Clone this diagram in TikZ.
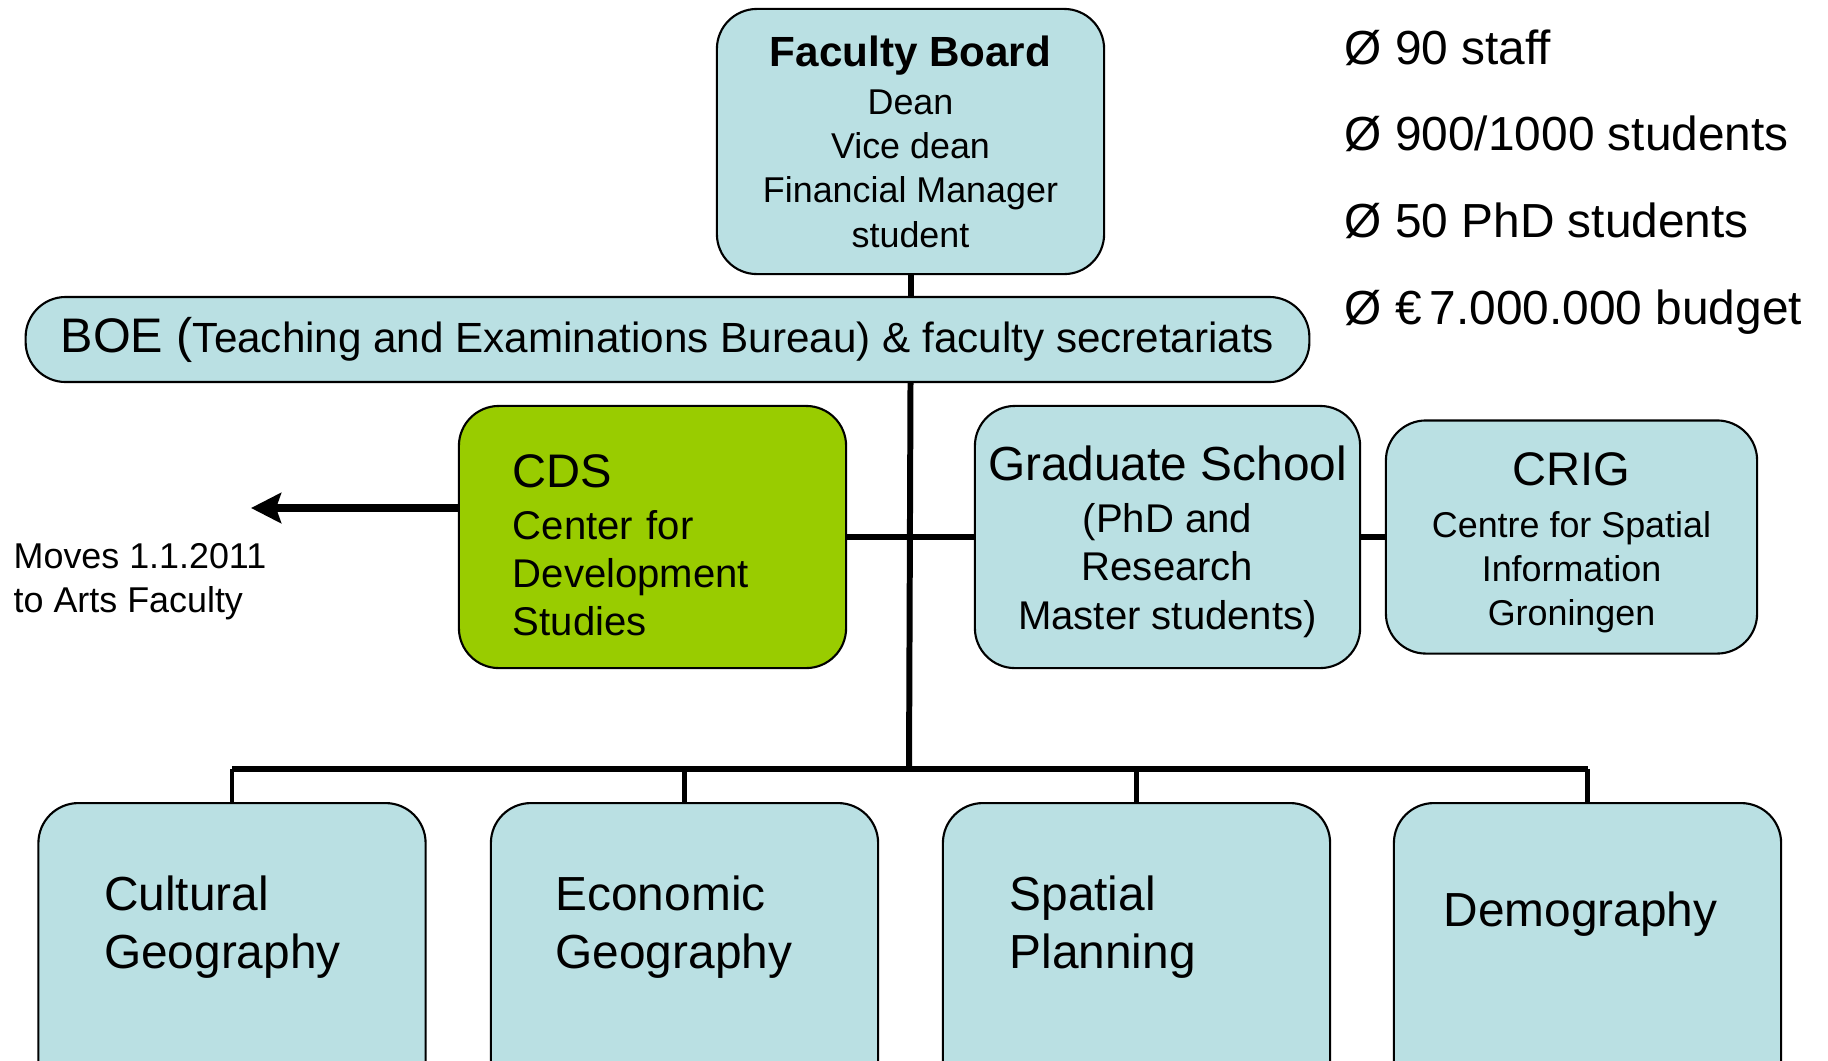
\documentclass[tikz,border=0pt]{standalone}
\usepackage{fontspec}
\setmainfont{Liberation Sans}
\usetikzlibrary{positioning,arrows.meta}
\definecolor{boxblue}{RGB}{186,224,227}
\definecolor{cdsgreen}{RGB}{153,204,0}
\newcommand{\fbig}{\fontsize{13.6pt}{16.5pt}\selectfont}
\newcommand{\fcap}{\fontsize{13.4pt}{15pt}\selectfont}
\newcommand{\fmid}{\fontsize{11.4pt}{13.7pt}\selectfont}
\newcommand{\fsmall}{\fontsize{10.2pt}{12.6pt}\selectfont}

\begin{document}
\begin{tikzpicture}[x=0.01cm,y=-0.01cm]
    \tikzstyle{unit} = [draw, line width=0.6pt, fill=boxblue, rounded corners=0.4cm, align=center, inner sep=0pt]
    \tikzstyle{dept} = [unit, anchor=north, minimum width=3.87cm, minimum height=3.1cm]
    \tikzstyle{deptlbl} = [anchor=base west, align=left, inner sep=0pt, font=\fbig]
    \tikzstyle{stat} = [anchor=base west, inner sep=0pt, font=\fbig]
    \tikzstyle{link} = [line width=1.7pt]
    \tikzstyle{drop} = [line width=1.2pt]
    \clip (0,0) rectangle (1828,1060);
        % board
        \node[unit, font=\fsmall, minimum width=3.87cm, minimum height=2.65cm] (fb) at (910.5,141.5)
            {{\fontsize{12pt}{14pt}\selectfont\bfseries Faculty Board}\\[1pt] Dean\\ Vice dean\\ Financial Manager\\ student};
        \node[unit, font=\fontsize{12pt}{14pt}\selectfont, minimum width=12.83cm, minimum height=0.85cm] (boe) at (667.5,339.5)
            {{\fontsize{13.8pt}{15pt}\selectfont BOE (}Teaching and Examinations Bureau) \& faculty secretariats};
        % level 1
        \node[unit, font=\fmid, fill=cdsgreen, align=left, text width=2.79cm, inner xsep=0.54cm, minimum height=2.62cm] (cds) at (652.5,537)
            {{\fcap\rule{0pt}{14pt}CDS}\\[1pt] Center for\\ Development\\ Studies};
        \node[unit, font=\fmid, minimum width=3.85cm, minimum height=2.62cm] (grad) at (1167.5,537)
            {{\fbig\rule{0pt}{12.6pt}Graduate School}\\[1pt] (PhD and\\ Research\\ Master students)};
        \node[unit, font=\fsmall, minimum width=3.71cm, minimum height=2.33cm] (crig) at (1571.5,537)
            {{\fcap\rule{0pt}{12.8pt}CRIG}\\[2pt] Centre for Spatial\\ Information\\ Groningen};
        \draw[link] (cds.east) -- (grad.west);
        \draw[link] (grad.east) -- (crig.west);
        % moved away
        \coordinate (moved) at (251,508);
        \draw[line width=2pt,-{Stealth[length=0.3cm,width=0.3cm,inset=0.05cm]}] (cds.west |- moved) -- (moved);
        \node[anchor=west, align=left, inner sep=0pt, font=\fsmall] (movetxt) at (13,582) {Moves 1.1.2011\\ to Arts Faculty};
        % level 2
        \node[dept] (cult) at (232,802) {};
        \node[dept] (econ) at (684.5,802) {};
        \node[dept] (spat) at (1136.5,802) {};
        \node[dept] (demo) at (1587.5,802) {};
        \node[deptlbl] (cultlbl) at ([xshift=0.66cm,yshift=-1.66cm]cult.north west) {Cultural\\ Geography};
        \node[deptlbl] (econlbl) at ([xshift=0.65cm,yshift=-1.66cm]econ.north west) {Economic\\ Geography};
        \node[deptlbl] (spatlbl) at ([xshift=0.67cm,yshift=-1.66cm]spat.north west) {Spatial\\ Planning};
        \node[anchor=base, inner sep=0pt, font=\fbig] (demolbl) at ([xshift=-0.07cm,yshift=-1.24cm]demo.north) {Demography};
        % trunk and bus
        \coordinate (bus) at (909,769);
        \draw[link] (fb.south) -- (fb.south |- boe.north);
        \draw[link] (fb.south |- boe.south) -- (bus);
        \draw[link] (cult.north |- bus) -- (demo.north |- bus);
        \draw[drop] (cult.north |- bus) -- (cult.north);
        \draw[drop] (econ.north |- bus) -- (econ.north);
        \draw[drop] (spat.north |- bus) -- (spat.north);
        \draw[drop] (demo.north |- bus) -- (demo.north);
        % facts
        \node[stat] (staff) at (1344,64) {Ø 90 staff};
        \node[stat] (stud) at (1344,150) {Ø 900/1000 students};
        \node[stat] (phd) at (1344,237) {Ø 50 PhD students};
        \node[stat] (budget) at (1344,324) {Ø €\,7.000.000 budget};
    \end{tikzpicture}
\end{document}
